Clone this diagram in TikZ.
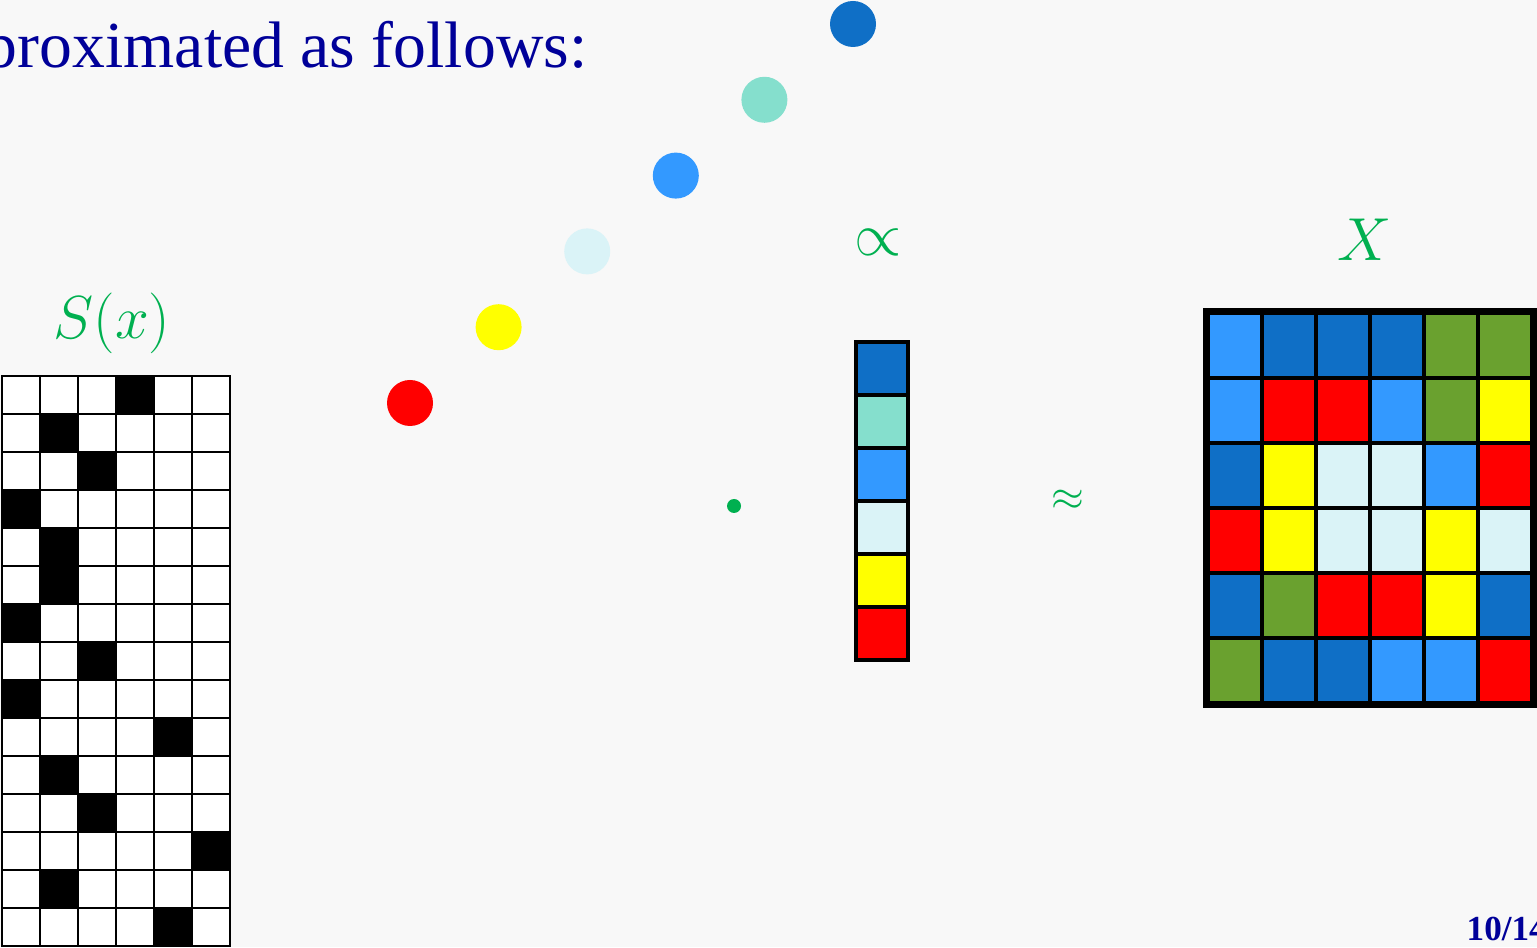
\documentclass[tikz,border=0pt]{standalone}
\usepackage{fontspec}
\setmainfont{Liberation Serif}
\usetikzlibrary{positioning,fit}
\definecolor{SlideBg}{HTML}{F8F8F8}
\definecolor{TitleBlue}{HTML}{000099}
\definecolor{LabelGreen}{HTML}{00B050}
\definecolor{ColRed}{HTML}{FF0000}
\definecolor{ColYellow}{HTML}{FFFF00}
\definecolor{ColCyan}{HTML}{DAF3F7}
\definecolor{ColSky}{HTML}{3399FF}
\definecolor{ColTeal}{HTML}{85DFCD}
\definecolor{ColNavy}{HTML}{0F6FC6}
\definecolor{ColGreen}{HTML}{6AA12F}

\begin{document}
\begin{tikzpicture}[
    dot/.style={
      circle,
      fill=#1,
      minimum size=0.46cm,
      inner sep=0pt
    },
    bit/.style={
      draw=black,
      fill=#1,
      line width=0.6pt,
      minimum size=0.38cm,
      inner sep=0pt
    },
    vcell/.style={
      draw=black,
      fill=#1,
      line width=1pt,
      minimum width=0.52cm,
      minimum height=0.53cm,
      inner sep=0pt
    },
    mcell/.style={
      draw=black,
      fill=#1,
      line width=0.9pt,
      minimum width=0.54cm,
      minimum height=0.65cm,
      inner sep=0pt
    },
    sym/.style={
      text=LabelGreen,
      font=\fontsize{#1}{#1}\selectfont,
      inner sep=0pt
    }
  ]

  \path[use as bounding box, fill=SlideBg] (0,0) rectangle (15.37,9.47);

  \node[anchor=base east, text=TitleBlue, font=\fontsize{18.7}{22}\selectfont, inner sep=0pt]
    (title) at (5.88,8.79) {proximated as follows:};
  \node[anchor=base west, text=TitleBlue, font=\bfseries\fontsize{10}{12}\selectfont, inner sep=0pt]
    (page) at (14.66,0.07) {10/14};

  % one-hot code S(x)
  \node[sym=16] (slabel) at (1.12,6.24) {$S(x)$};
  \foreach \h [count=\r from 0] in {3,1,2,0,1,1,0,2,0,4,1,2,5,1,4}
    \foreach \c in {0,...,5} {
      \ifnum\c=\h \def\bitcol{black}\else\def\bitcol{white}\fi
      \node[bit=\bitcol] (s-\r-\c) at ({0.21+0.38*\c},{5.52-0.38*\r}) {};
    }

  % palette
  \foreach \col [count=\i from 0] in {ColRed,ColYellow,ColCyan,ColSky,ColTeal,ColNavy}
    \node[dot=\col] (c-\i) at ({4.10+0.886*\i},{5.44+0.758*\i}) {};

  \node[dot=LabelGreen, minimum size=0.14cm] (mult) at (7.34,4.41) {};

  \node[sym=16] (prop) at (8.78,7.05) {$\propto$};
  \foreach \col [count=\i from 0] in {ColNavy,ColTeal,ColSky,ColCyan,ColYellow,ColRed}
    \node[vcell=\col] (v-\i) at (8.82,{5.785-0.53*\i}) {};

  \node[sym=13] (approx) at (10.68,4.47) {$\approx$};

  % image X
  \node[sym=17] (xlabel) at (13.65,7.07) {$X$};
  \foreach \row [count=\r from 0] in {
      {ColSky,ColNavy,ColNavy,ColNavy,ColGreen,ColGreen},
      {ColSky,ColRed,ColRed,ColSky,ColGreen,ColYellow},
      {ColNavy,ColYellow,ColCyan,ColCyan,ColSky,ColRed},
      {ColRed,ColYellow,ColCyan,ColCyan,ColYellow,ColCyan},
      {ColNavy,ColGreen,ColRed,ColRed,ColYellow,ColNavy},
      {ColGreen,ColNavy,ColNavy,ColSky,ColSky,ColRed}}
    \foreach \col [count=\c from 0] in \row
      \node[mcell=\col] (m-\r-\c) at ({12.35+0.54*\c},{6.015-0.65*\r}) {};
  \node[fit=(m-0-0)(m-5-5), draw=black, line width=2pt, inner sep=0pt] (xbox) {};

\end{tikzpicture}
\end{document}
